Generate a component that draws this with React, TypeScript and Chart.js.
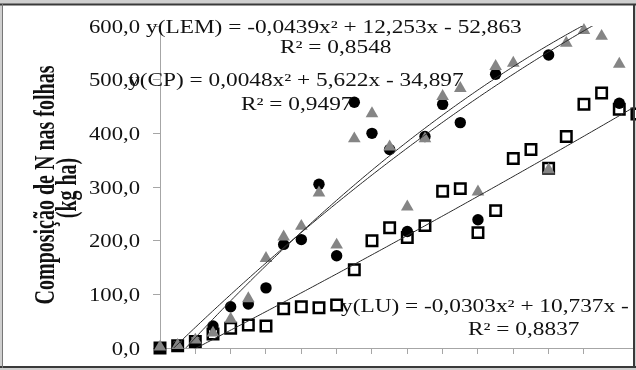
import React, { useEffect, useRef } from "react";
import { Chart, registerables } from "chart.js";

Chart.register(...registerables);

// ---- data ----
const X_DAYS = [0, 3, 6, 9, 12, 15, 18, 21, 24, 27, 30, 33, 36, 39, 42, 45, 48, 51, 54, 57, 60, 63, 66, 69, 72, 75, 78, 81];
// grey triangles
const SERIES_LEM: (number | null)[] = [2, 5, 15, 28, 54, 92, 167, 207, 227, 289, 192, 390, 437, 375, 263, 390, 469, 484, 291, 525, 531, null, 332, 568, 592, 581, 529, null];
// black circles
const SERIES_LU: (number | null)[] = [0, 3, 10, 41, 77, 82, 112, 193, 202, 305, 172, 458, 400, 370, 217, 394, 454, 420, 239, 510, null, null, 546, null, null, null, 456, null];
// white squares
const SERIES_CP: (number | null)[] = [0, 4, 12, 26, 37, 43, 41, 73, 77, 75, 80, 146, 200, 224, 206, 228, 292, 297, 215, 256, 353, 370, 335, 394, 454, 475, 445, 436];

// polynomial trend coefficients [a, b, c] for y = a x^2 + b x + c
const TREND_LEM = [-0.0439, 12.253, -52.863];
const TREND_CP = [0.0048, 5.622, -34.897];
const TREND_LU = [-0.0303, 10.737, -24.9];

const EQ_LEM = "y(LEM) = -0,0439x² + 12,253x - 52,863";
const R2_LEM = "R² = 0,8548";
const EQ_CP = "y(CP) = 0,0048x² + 5,622x - 34,897";
const R2_CP = "R² = 0,9497";
const EQ_LU = "y(LU) = -0,0303x² + 10,737x -";
const R2_LU = "R² = 0,8837";

const Y_TITLE_1 = "Composição de N nas folhas";
const Y_TITLE_2 = "(kg ha)";

const Y_MIN = 0;
const Y_MAX = 600;
const Y_STEP = 100;
const X_MIN = 0;
const X_MAX = 80.5;
const X_STEP = 6;

const TRENDS = [TREND_LEM, TREND_LU, TREND_CP];
const TREND_X_RANGE = [X_DAYS[0], X_DAYS[X_DAYS.length - 1]];

function toPoints(vals: (number | null)[]) {
  const out: { x: number; y: number }[] = [];
  vals.forEach((v, i) => {
    if (v !== null) out.push({ x: X_DAYS[i], y: v });
  });
  return out;
}

const SERIF = '"Liberation Serif", "Times New Roman", serif';
const SX = 1.26;
const SX_TITLE = 1.42;

function stretchedText(ctx: CanvasRenderingContext2D, text: string, x: number, y: number, size: number, align: CanvasTextAlign = "left", bold = false) {
  ctx.save();
  ctx.font = `${bold ? "bold " : ""}${size}px ${SERIF}`;
  ctx.fillStyle = "#111";
  ctx.textBaseline = "alphabetic";
  ctx.textAlign = align;
  ctx.translate(x, y);
  ctx.scale(SX, 1);
  ctx.fillText(text, 0, 0);
  ctx.restore();
}

function rotatedTitle(ctx: CanvasRenderingContext2D, text: string, x: number, y: number) {
  ctx.save();
  ctx.font = `bold 20px ${SERIF}`;
  ctx.fillStyle = "#111";
  ctx.textAlign = "center";
  ctx.textBaseline = "alphabetic";
  ctx.translate(x, y);
  ctx.rotate(-Math.PI / 2);
  ctx.scale(1, SX_TITLE);
  ctx.fillText(text, 0, 0);
  ctx.restore();
}

const framePlugin = {
  id: "frame",
  beforeDraw(chart: any) {
    const ctx = chart.ctx as CanvasRenderingContext2D;
    ctx.save();
    ctx.fillStyle = "#cfcfcf";
    ctx.fillRect(0, 0, chart.width, chart.height);
    ctx.fillStyle = "#ffffff";
    ctx.fillRect(3, 5, 630, 361);
    ctx.restore();
  },
  afterDatasetsDraw(chart: any) {
    const ctx = chart.ctx as CanvasRenderingContext2D;
    const xs = chart.scales.x;
    const ys = chart.scales.y;
    const area = chart.chartArea;
    ctx.save();
    ctx.beginPath();
    ctx.rect(area.left, area.top, area.right - area.left, area.bottom - area.top);
    ctx.clip();
    ctx.strokeStyle = "#2a2a2a";
    ctx.lineWidth = 1;
    TRENDS.forEach((c) => {
      ctx.beginPath();
      const [x0, x1] = TREND_X_RANGE;
      const n = 200;
      for (let i = 0; i <= n; i++) {
        const x = x0 + ((x1 - x0) * i) / n;
        const y = c[0] * x * x + c[1] * x + c[2];
        const px = xs.getPixelForValue(x);
        const py = ys.getPixelForValue(y);
        if (i === 0) ctx.moveTo(px, py);
        else ctx.lineTo(px, py);
      }
      ctx.stroke();
    });
    ctx.restore();
  },
  afterDraw(chart: any) {
    const ctx = chart.ctx as CanvasRenderingContext2D;
    const ys = chart.scales.y;
    ys.ticks.forEach((t: any) => {
      const py = ys.getPixelForValue(t.value);
      const label = t.value.toFixed(1).replace(".", ",");
      stretchedText(ctx, label, 140, py + 6.5, 18, "right");
    });
    stretchedText(ctx, EQ_LEM, 146, 33, 18.5);
    stretchedText(ctx, R2_LEM, 280, 53, 18.5);
    stretchedText(ctx, EQ_CP, 128, 86, 18.5);
    stretchedText(ctx, R2_CP, 241, 110, 18.5);
    stretchedText(ctx, EQ_LU, 341, 312, 18.5);
    stretchedText(ctx, R2_LU, 468, 335, 18.5);
    rotatedTitle(ctx, Y_TITLE_1, 54, 185);
    rotatedTitle(ctx, Y_TITLE_2, 76, 188);
    ctx.save();
    ctx.strokeStyle = "#3a3a3a";
    ctx.lineWidth = 2;
    ctx.beginPath();
    ctx.moveTo(0, 4.5);
    ctx.lineTo(636, 4.5);
    ctx.stroke();
    ctx.beginPath();
    ctx.moveTo(0, 367);
    ctx.lineTo(636, 367);
    ctx.stroke();
    ctx.beginPath();
    ctx.moveTo(634, 4);
    ctx.lineTo(634, 368);
    ctx.stroke();
    ctx.strokeStyle = "#777";
    ctx.lineWidth = 1;
    ctx.beginPath();
    ctx.moveTo(2.5, 4);
    ctx.lineTo(2.5, 368);
    ctx.stroke();
    ctx.restore();
  },
};

export default function App() {
  const ref = useRef<HTMLCanvasElement | null>(null);
  useEffect(() => {
    if (!ref.current) return;
    const chart = new Chart(ref.current, {
      type: "scatter",
      data: {
        datasets: [
          {
            label: "LEM",
            data: toPoints(SERIES_LEM),
            pointStyle: "triangle",
            pointRadius: 7.3,
            backgroundColor: "#858585",
            borderColor: "#858585",
            borderWidth: 0,
            clip: false,
            order: 0,
          },
          {
            label: "LU",
            data: toPoints(SERIES_LU),
            pointStyle: "circle",
            pointRadius: 5.7,
            backgroundColor: "#000000",
            borderColor: "#000000",
            borderWidth: 0,
            clip: false,
            order: 1,
          },
          {
            label: "CP",
            data: toPoints(SERIES_CP),
            pointStyle: "rect",
            pointRadius: 7.4,
            backgroundColor: "#ffffff",
            borderColor: "#000000",
            borderWidth: 2.5,
            clip: false,
            order: 2,
          },
        ] as any,
      },
      options: {
        animation: false,
        responsive: false,
        devicePixelRatio: 1,
        layout: { autoPadding: false, padding: { left: 0, top: 26, right: 2, bottom: 0 } },
        plugins: { legend: { display: false }, tooltip: { enabled: false } },
        scales: {
          x: {
            type: "linear",
            min: X_MIN,
            max: X_MAX,
            ticks: { display: false, stepSize: X_STEP },
            grid: { drawOnChartArea: false, drawTicks: true, tickLength: 6, color: "#a6a6a6" },
            border: { color: "#a6a6a6", width: 1 },
            afterFit: (s: any) => {
              s.height = 22;
            },
          },
          y: {
            type: "linear",
            min: Y_MIN,
            max: Y_MAX,
            ticks: { display: false, stepSize: Y_STEP },
            grid: { drawOnChartArea: false, drawTicks: true, tickLength: 7, color: "#a6a6a6" },
            border: { color: "#a6a6a6", width: 1 },
            afterFit: (s: any) => {
              s.width = 160;
            },
          },
        },
      },
      plugins: [framePlugin],
    });
    return () => chart.destroy();
  }, []);
  return (
    <div style={{ position: "fixed", left: 0, top: 0, width: 636, height: 370 }}>
      <canvas ref={ref} width={636} height={370} style={{ display: "block", width: 636, height: 370 }} />
    </div>
  );
}
